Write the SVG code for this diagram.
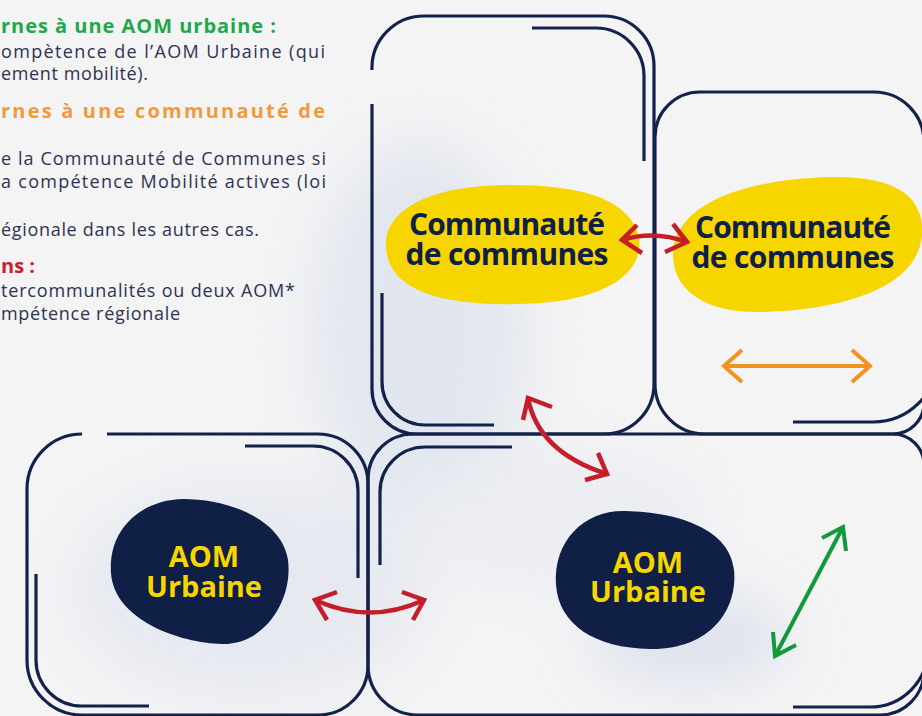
<svg xmlns="http://www.w3.org/2000/svg" width="922" height="716" viewBox="0 0 922 716">
<defs>
<filter id="blur" x="-50%" y="-50%" width="200%" height="200%"><feGaussianBlur stdDeviation="28"/></filter>
<style>
.frame{fill:none;stroke:#13224a;stroke-width:3.2;stroke-linecap:butt}
.yel{fill:#f7d600}
.nav{fill:#0f1f45}
.cc{font-family:"Open Sans","Liberation Sans",sans-serif;font-weight:700;font-size:30px;fill:#0f1f45;text-anchor:middle}
.aom{font-family:"Open Sans","Liberation Sans",sans-serif;font-weight:700;font-size:29px;fill:#f7d600;text-anchor:middle}
.body{font-family:"Open Sans","Liberation Sans",sans-serif;font-size:18px;fill:#2d3352}
.hd{font-family:"Open Sans","Liberation Sans",sans-serif;font-size:20px;font-weight:700}
.red{fill:none;stroke:#c41e2b;stroke-width:4.5;stroke-linecap:butt;stroke-linejoin:miter}
.org{fill:none;stroke:#f0941f;stroke-width:4;stroke-linejoin:miter}
.grn{fill:none;stroke:#109a3a;stroke-width:4;stroke-linejoin:miter}
</style>
</defs>
<rect width="922" height="716" fill="#f4f4f5"/>
<g id="background" filter="url(#blur)" opacity="0.75">
<ellipse cx="420" cy="330" rx="110" ry="190" fill="#dde2ec"/>
<ellipse cx="250" cy="590" rx="180" ry="110" fill="#e2e6ef"/>
<ellipse cx="690" cy="640" rx="100" ry="45" fill="#d6dcea"/>
<ellipse cx="560" cy="520" rx="150" ry="70" fill="#e8ebf2"/>
</g>

<g id="legend">
<text class="hd" x="1" y="33" fill="#1fa84a" textLength="275" lengthAdjust="spacing">rnes à une AOM urbaine :</text>
<text class="body" x="1" y="58" textLength="324" lengthAdjust="spacing">ompètence de l’AOM Urbaine (qui</text>
<text class="body" x="1" y="80" textLength="147" lengthAdjust="spacing">ement mobilité).</text>
<text class="hd" x="1" y="118" fill="#f29a3a" textLength="324" lengthAdjust="spacing">rnes à une communauté de</text>
<text class="body" x="1" y="165" textLength="325" lengthAdjust="spacing">e la Communauté de Communes si</text>
<text class="body" x="1" y="188" textLength="325" lengthAdjust="spacing">a compétence Mobilité actives (loi</text>
<text class="body" x="1" y="236" textLength="258" lengthAdjust="spacing">égionale dans les autres cas.</text>
<text class="hd" x="1" y="273" fill="#c8202f" textLength="34" lengthAdjust="spacing">ns :</text>
<text class="body" x="1" y="297" textLength="294" lengthAdjust="spacing">tercommunalités ou deux AOM*</text>
<text class="body" x="1" y="320" textLength="179" lengthAdjust="spacing">mpétence régionale</text>
</g>

<g id="zone-a">
<path class="frame" d="M372,70 A52,52 0 0 1 424,16 L604,16 A50,50 0 0 1 654,66 L654,384 A50,50 0 0 1 604,434 L417,434 A45,45 0 0 1 372,389 L372,104"/>
<path class="frame" d="M532,28 L596,28 A48,48 0 0 1 644,76 L644,161"/>
<path class="frame" d="M382,293 L382,382 A43,43 0 0 0 425,425 L494,425"/>
</g>
<g id="zone-b">
<path class="frame" d="M655,384 L655,137 A45,45 0 0 1 700,92 L874,92 A50,50 0 0 1 924,142 L924,403 A31,31 0 0 1 893,434 L705,434 A50,50 0 0 1 655,384"/>
<path class="frame" d="M793,422 L873,422 A65,65 0 0 0 938,357"/>
</g>
<g id="zone-c">
<path class="frame" d="M107,434 L318,434 A50,50 0 0 1 368,484 L368,665 A50,50 0 0 1 318,715 L82,715 A55,55 0 0 1 27,660 L27,489 A55,55 0 0 1 82,434"/>
<path class="frame" d="M245,446 L313,446 A45,45 0 0 1 358,491 L358,578"/>
<path class="frame" d="M36,574 L36,660 A46,46 0 0 0 82,706 L149,706"/>
</g>
<g id="zone-d">
<path class="frame" d="M368,665 L368,479 A45,45 0 0 1 413,434 L893,434 A31,31 0 0 1 924,465 L924,671 A44,44 0 0 1 880,715 L418,715 A50,50 0 0 1 368,665"/>
<path class="frame" d="M512,447 L425,447 A45,45 0 0 0 380,492 L380,565"/>
<path class="frame" d="M793,707 L870,707 A58,58 0 0 0 928,649"/>
</g>

<g id="cc-1">
<path class="yel" d="M386,247 C384,207 435,186 505,185 C575,184 622,197 636,228 C650,262 622,302 520,304 C440,306 388,290 386,247 Z"/>
<text class="cc"><tspan x="507" y="235" textLength="196" lengthAdjust="spacing">Communauté</tspan><tspan x="507" y="265" textLength="203" lengthAdjust="spacing">de communes</tspan></text>
</g>
<g id="cc-2">
<path class="yel" d="M673,255 C673,210 730,180 830,177 C900,175 925,200 922,235 C918,285 850,310 760,312 C705,313 673,290 673,255 Z"/>
<text class="cc"><tspan x="793" y="238" textLength="196" lengthAdjust="spacing">Communauté</tspan><tspan x="793" y="268" textLength="203" lengthAdjust="spacing">de communes</tspan></text>
</g>
<g id="aom-1">
<path class="nav" d="M111,573 C108,530 140,500 183,499 C230,499 282,520 288,560 C293,600 265,645 222,644 C180,643 114,620 111,573 Z"/>
<text class="aom"><tspan x="204" y="567">AOM</tspan><tspan x="204" y="597">Urbaine</tspan></text>
</g>
<g id="aom-2">
<path class="nav" d="M556,585 C553,540 585,510 625,511 C680,512 730,530 734,570 C738,610 710,650 650,649 C595,648 559,625 556,585 Z"/>
<text class="aom"><tspan x="648" y="573">AOM</tspan><tspan x="648" y="602">Urbaine</tspan></text>
</g>

<g id="connectors">
<path class="red" d="M622,240 Q654,230 687,242"/>
<path class="red" d="M637,225 L622,240 L642,253"/>
<path class="red" d="M673,224 L687,242 L665,252"/>
<path class="red" d="M528,398 Q538,452 607,474"/>
<path class="red" d="M552,407 L528,398 L523,420"/>
<path class="red" d="M598,453 L607,474 L585,480"/>
<path class="red" d="M315,600 Q370,625 424,600"/>
<path class="red" d="M337,592 L315,600 L327,620"/>
<path class="red" d="M402,592 L424,600 L413,620"/>
<path class="org" d="M723,366 L871,366"/>
<path class="org" d="M742,350 L724,366 L742,382"/>
<path class="org" d="M852,350 L870,366 L852,382"/>
<path class="grn" d="M775,656 L843,527"/>
<path class="grn" d="M822,538 L843,527 L846,551"/>
<path class="grn" d="M773,632 L775,656 L796,645"/>
</g>
</svg>
